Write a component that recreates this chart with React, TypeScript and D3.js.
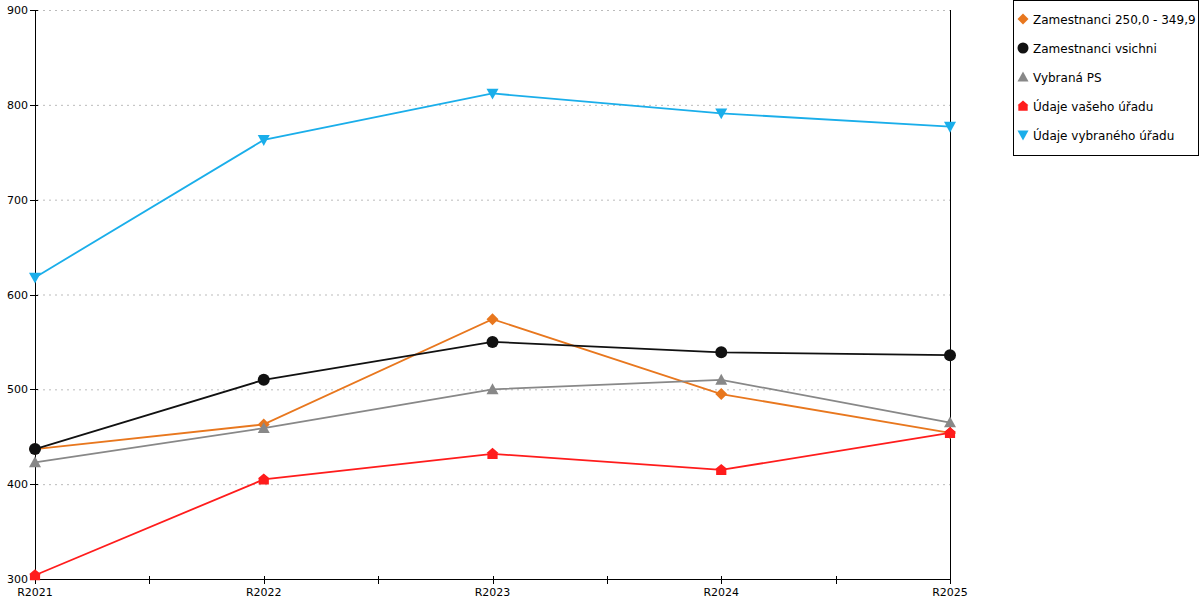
import React, { useEffect, useRef } from 'react';
import * as d3 from 'd3';

// categories and series
const years = ['R2021', 'R2022', 'R2023', 'R2024', 'R2025'];
const zam250 = [437, 463, 574, 495, 454];
const zamAll = [437, 510, 550, 539, 536];
const vybranaPS = [423, 459, 500, 510, 465];
const vasUrad = [304, 405, 432, 415, 454];
const vybranyUrad = [618, 763, 812, 791, 777];
const yTicks = [300, 400, 500, 600, 700, 800, 900];

const seriesList = [
  { name: 'Zamestnanci 250,0 - 349,9', values: zam250, color: '#e8771e', shape: 'diamond' },
  { name: 'Zamestnanci vsichni', values: zamAll, color: '#111111', shape: 'circle' },
  { name: 'Vybraná PS', values: vybranaPS, color: '#888888', shape: 'triangle' },
  { name: 'Údaje vašeho úřadu', values: vasUrad, color: '#ff1c1c', shape: 'house' },
  { name: 'Údaje vybraného úřadu', values: vybranyUrad, color: '#1aaeea', shape: 'down' },
];

const markerPath = (shape: string, s: number) => {
  switch (shape) {
    case 'diamond':
      return `M0,${-s}L${s},0L0,${s}L${-s},0Z`;
    case 'circle':
      return d3.symbol(d3.symbolCircle, Math.PI * s * s)() as string;
    case 'triangle':
      return `M0,${-s}L${s},${s * 0.8}L${-s},${s * 0.8}Z`;
    case 'house':
      return `M0,${-s}L${s},${-s * 0.15}L${s * 0.85},${-s * 0.15}L${s * 0.85},${s * 0.85}L${-s * 0.85},${s * 0.85}L${-s * 0.85},${-s * 0.15}L${-s},${-s * 0.15}Z`;
    default:
      return `M${-s},${-s * 0.8}L${s},${-s * 0.8}L0,${s}Z`;
  }
};

function LineChart() {
  const ref = useRef<SVGSVGElement>(null);

  useEffect(() => {
    const svg = d3.select(ref.current);
    svg.selectAll('*').remove();

    const left = 35, right = 950, top = 10, bottom = 579;
    const x = d3.scalePoint().domain(years).range([left, right]);
    const y = d3.scaleLinear().domain([300, 900]).range([bottom, top]);
    const font = 'DejaVu Sans, Verdana, sans-serif';

    // dotted grid
    svg.append('g')
      .selectAll('line')
      .data(yTicks.slice(1))
      .enter().append('line')
      .attr('x1', left + 2).attr('x2', right)
      .attr('y1', (d) => y(d) + 0.5).attr('y2', (d) => y(d) + 0.5)
      .attr('stroke', '#bbbbbb')
      .attr('stroke-dasharray', '2,4');

    // axes
    const ax = svg.append('g').attr('stroke', '#000').attr('shape-rendering', 'crispEdges');
    ax.append('line').attr('x1', left + 0.5).attr('x2', left + 0.5).attr('y1', top).attr('y2', bottom);
    ax.append('line').attr('x1', right + 0.5).attr('x2', right + 0.5).attr('y1', top).attr('y2', bottom);
    ax.append('line').attr('x1', left).attr('x2', right).attr('y1', bottom + 0.5).attr('y2', bottom + 0.5);
    ax.selectAll('.yt').data(yTicks).enter().append('line')
      .attr('x1', left - 5).attr('x2', left + 3)
      .attr('y1', (d) => y(d) + 0.5).attr('y2', (d) => y(d) + 0.5);
    const step = x.step();
    const xTickPos = years.map((c) => x(c) as number)
      .concat(years.slice(1).map((c) => (x(c) as number) - step / 2));
    ax.selectAll('.xt').data(xTickPos).enter().append('line')
      .attr('x1', (d) => Math.round(d) + 0.5).attr('x2', (d) => Math.round(d) + 0.5)
      .attr('y1', bottom - 3).attr('y2', bottom + 5);

    svg.append('g')
      .selectAll('text')
      .data(yTicks)
      .enter().append('text')
      .attr('x', left - 7).attr('y', (d) => y(d) + 4)
      .attr('text-anchor', 'end')
      .attr('font-family', font).attr('font-size', 11)
      .text((d) => d);

    svg.append('g')
      .selectAll('text')
      .data(years)
      .enter().append('text')
      .attr('x', (d) => x(d) as number).attr('y', bottom + 17)
      .attr('text-anchor', 'middle')
      .attr('font-family', font).attr('font-size', 11)
      .text((d) => d);

    const line = d3.line<number>()
      .x((_, i) => x(years[i]) as number)
      .y((d) => y(d));

    seriesList.forEach((s) => {
      svg.append('path')
        .datum(s.values)
        .attr('d', line)
        .attr('fill', 'none')
        .attr('stroke', s.color)
        .attr('stroke-width', 1.8);
      svg.append('g')
        .selectAll('path')
        .data(s.values)
        .enter().append('path')
        .attr('transform', (d, i) => `translate(${x(years[i])},${y(d)})`)
        .attr('d', markerPath(s.shape, 6))
        .attr('fill', s.color);
    });

    // legend
    const lg = svg.append('g');
    lg.append('rect')
      .attr('x', 1013.5).attr('y', 0.5).attr('width', 185).attr('height', 155)
      .attr('fill', '#fff').attr('stroke', '#000');
    seriesList.forEach((s, i) => {
      const cy = 19 + i * 29;
      lg.append('path')
        .attr('transform', `translate(1023,${cy})`)
        .attr('d', markerPath(s.shape, 5.5))
        .attr('fill', s.color);
      lg.append('text')
        .attr('x', 1033).attr('y', cy + 4.5)
        .attr('font-family', font).attr('font-size', 12)
        .text(s.name);
    });
  }, []);

  return <svg ref={ref} width={1200} height={600} style={{ display: 'block' }} />;
}

export default function App() {
  return (
    <div style={{ position: 'absolute', left: 0, top: 0 }}>
      <LineChart />
    </div>
  );
}
